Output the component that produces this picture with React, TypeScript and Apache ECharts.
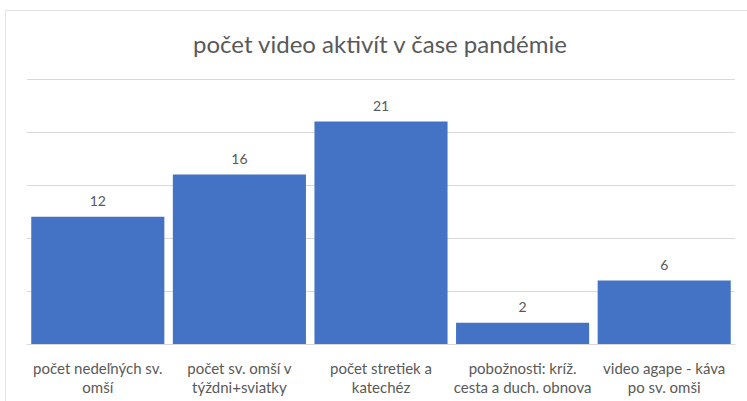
import React, { useEffect, useRef } from "react";
import * as echarts from "echarts";

const categories = [
  "počet nedeľných sv.\nomší",
  "počet sv. omší v\ntýždni+sviatky",
  "počet stretiek a\nkatechéz",
  "pobožnosti: kríž.\ncesta a duch. obnova",
  "video agape - káva\npo sv. omši",
];
const values = [12, 16, 21, 2, 6];
const titleText = "počet video aktivít v čase pandémie";

export default function App() {
  const ref = useRef<HTMLDivElement>(null);
  useEffect(() => {
    if (!ref.current) return;
    const chart = echarts.init(ref.current, undefined, { renderer: "svg" });
    const font = "Lato, 'Open Sans', sans-serif";
    chart.setOption({
      animation: false,
      backgroundColor: "#ffffff",
      textStyle: { fontFamily: font },
      title: {
        text: titleText,
        left: 188,
        top: 26,
        textStyle: { fontFamily: font, fontSize: 24, fontWeight: "normal", color: "#595959" },
      },
      graphic: [
        {
          type: "rect",
          shape: { x: 5.5, y: 10.5, width: 900, height: 600 },
          style: { fill: "none", stroke: "#e3e3e3", lineWidth: 1 },
          silent: true,
        },
      ],
      grid: { left: 27, right: 12, top: 79, bottom: 57, containLabel: false },
      xAxis: {
        type: "category",
        data: categories,
        axisTick: { show: false },
        axisLine: { show: true, lineStyle: { color: "#d9d9d9", width: 1 } },
        axisLabel: {
          interval: 0,
          margin: 14,
          color: "#595959",
          fontSize: 15,
          lineHeight: 19,
          fontFamily: font,
        },
      },
      yAxis: {
        type: "value",
        min: 0,
        max: 25,
        interval: 5,
        axisLabel: { show: false },
        axisLine: { show: false },
        axisTick: { show: false },
        splitLine: { lineStyle: { color: "#d9d9d9", width: 1 } },
      },
      series: [
        {
          type: "bar",
          data: values,
          barCategoryGap: "6%",
          itemStyle: { color: "#4472C4" },
          label: {
            show: true,
            position: "top",
            distance: 9,
            color: "#595959",
            fontSize: 14,
            fontFamily: font,
          },
        },
      ],
    });
    return () => chart.dispose();
  }, []);
  return (
    <div
      ref={ref}
      style={{ position: "fixed", left: 0, top: 0, width: 747, height: 401 }}
    />
  );
}
